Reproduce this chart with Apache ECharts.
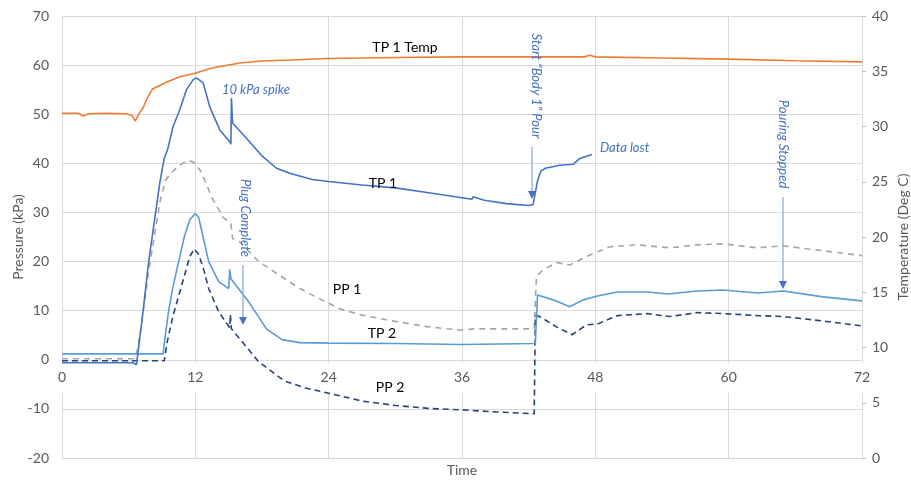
<!DOCTYPE html>
<html>
<head>
<meta charset="utf-8">
<title>Pressure and temperature</title>
<script src="https://cdn.jsdelivr.net/npm/echarts@6/dist/echarts.min.js"></script>
<style>
  html, body { margin: 0; padding: 0; background: #fff; }
  #chart { width: 911px; height: 480px; }
</style>
</head>
<body>
<div id="chart"></div>
<script>
// ticks
const timeTicks = [0, 12, 24, 36, 48, 60, 72]

// TP 1 Temp (right axis, deg C)
const tempTime = [0, 1.5, 1.9, 2.4, 4, 5.8, 6.3, 6.6, 6.9, 7.3, 7.6, 8.15, 9.4, 10.6, 11.9, 13.5, 16, 18, 20, 24, 30, 36, 42, 47, 47.5, 48, 54, 60, 66, 72]
const tempVal = [31.2, 31.2, 30.95, 31.15, 31.2, 31.15, 31.0, 30.5, 31.1, 31.7, 32.4, 33.4, 34.0, 34.5, 34.8, 35.3, 35.75, 35.93, 36.0, 36.15, 36.25, 36.3, 36.3, 36.3, 36.45, 36.3, 36.2, 36.1, 35.95, 35.85]

// TP 1 (kPa)
const tp1Time = [0, 6.4, 6.7, 7.2, 7.8, 8.3, 8.8, 9.2, 9.5, 10, 10.6, 11.2, 11.8, 12.1, 12.7, 13.3, 14.2, 15.1, 15.2, 15.25, 15.35, 16.6, 18, 19.3, 20.5, 22.5, 24, 27, 30, 33, 36, 36.9, 37.0, 38, 40, 42, 42.4, 42.8, 43.1, 43.5, 44.8, 46, 46.6, 47.7]
const tp1Val = [-0.6, -0.6, -1.0, 8, 20, 28, 36, 41, 42.8, 47.5, 50.9, 55, 57, 57.4, 56.4, 51.5, 46.8, 44.4, 43.9, 53.3, 48.2, 45.1, 41.5, 39, 38, 36.7, 36.3, 35.6, 35, 34, 33, 32.7, 33.2, 32.5, 31.8, 31.4, 31.6, 36.5, 38.4, 39, 39.6, 39.8, 41, 41.8]

// TP 2 (kPa)
const tp2Time = [0, 9.1, 9.3, 9.6, 10, 10.5, 11, 11.5, 12, 12.3, 12.7, 13.2, 14.1, 15.0, 15.1, 15.2, 16.8, 18.4, 19.8, 21.4, 24, 30, 36, 42.6, 42.8, 44.2, 45.7, 46.9, 48.2, 50, 52.7, 54.5, 57.2, 59.5, 62.6, 64.9, 68.5, 72]
const tp2Val = [1.2, 1.2, 5, 10, 15, 20, 25, 28.5, 29.8, 29, 25, 20, 15.9, 14.5, 18.4, 16.5, 11.8, 6.3, 4.1, 3.5, 3.4, 3.3, 3.1, 3.3, 13.2, 12.2, 10.8, 12.2, 13, 13.8, 13.8, 13.4, 14, 14.2, 13.6, 14, 12.8, 12]

// PP 1 (kPa)
const pp1Time = [0, 6.5, 6.8, 7.2, 7.8, 8.3, 8.8, 9.3, 9.8, 10.5, 11.3, 11.8, 12.5, 13.5, 14.5, 15.2, 15.3, 15.35, 16, 17.7, 19.5, 21.4, 23.2, 25, 26.8, 29.5, 33, 36, 37, 42.5, 42.7, 43.3, 44.5, 45.7, 47.2, 48.2, 49.3, 51.8, 54.7, 57.2, 59.5, 62.6, 64.9, 68.5, 72]
const pp1Val = [0.2, 0.2, 2, 8, 18, 25, 32, 36.5, 38, 39.5, 40.6, 40.3, 38.4, 33, 29, 27.8, 28, 24.7, 24, 20, 17.3, 14.5, 12.4, 10.4, 9.2, 8.0, 6.7, 6.0, 6.3, 6.3, 17, 18.3, 19.8, 19.3, 21, 22, 23, 23.4, 22.8, 23.4, 23.6, 22.8, 23.2, 22.2, 21.2]

// PP 2 (kPa)
const pp2Time = [0, 9.2, 9.5, 10, 10.5, 11, 11.5, 11.9, 12.3, 12.8, 13.2, 14.1, 15.1, 15.15, 15.25, 16.2, 17.7, 20, 22, 24, 27, 30, 33, 36, 39, 42.5, 42.6, 43, 44.5, 45.9, 47.2, 48.2, 50, 52.7, 54.7, 57.2, 59.5, 62.6, 64.9, 68.5, 72]
const pp2Val = [-0.2, -0.2, 4, 9, 13, 17, 21, 22.6, 21.5, 18, 14.5, 9.8, 6.5, 9.2, 6.3, 3.7, -0.4, -4.3, -5.8, -6.8, -8.4, -9.3, -9.9, -10.2, -10.6, -11, 9, 8.8, 6.7, 5.1, 7.1, 7.3, 9, 9.4, 8.8, 9.6, 9.4, 9, 8.8, 7.9, 6.9]

const FONT = 'Lato, "Open Sans", sans-serif'
const GRID_COLOR = '#D9D9D9'
const LABEL_COLOR = '#595959'
const NOTE_COLOR = '#4472C4'
const ARROW_COLOR = '#8FAADC'

const zip = (xs, ys) => xs.map((x, i) => [x, ys[i]])

const lineSeries = (name, xs, ys, color, opts = {}) => ({
  name: name,
  type: 'line',
  showSymbol: false,
  symbol: 'none',
  yAxisIndex: opts.yAxisIndex || 0,
  data: zip(xs, ys),
  lineStyle: { color: color, width: 1.6, type: opts.dash || 'solid' },
  itemStyle: { color: color },
  z: 3
})

// series name labels (black text on the plot)
const seriesText = (text, x, y) => ({
  type: 'text', x: x, y: y, z: 10,
  style: { text: text, fill: '#000', font: '14px ' + FONT, align: 'center', verticalAlign: 'middle' }
})

// blue italic notes, rotated ones read top to bottom
const noteText = (text, x, y, rotated) => ({
  type: 'text', x: x, y: y, z: 10,
  rotation: rotated ? -Math.PI / 2 : 0,
  style: { text: text, fill: NOTE_COLOR, font: 'italic 13px ' + FONT, align: rotated ? 'center' : 'left', verticalAlign: 'middle' }
})

// vertical arrow pointing down
const arrowDown = (x, y1, y2) => [
  { type: 'line', z: 10, shape: { x1: x, y1: y1, x2: x, y2: y2 - 5 }, style: { stroke: ARROW_COLOR, lineWidth: 1.3 } },
  { type: 'polygon', z: 10, shape: { points: [[x - 4, y2 - 8], [x + 4, y2 - 8], [x, y2]] }, style: { fill: NOTE_COLOR } }
]

const chart = echarts.init(document.getElementById('chart'))

const option = {
  animation: false,
  textStyle: { fontFamily: FONT },
  grid: { left: 62, right: 49, top: 16, bottom: 22, containLabel: false, outerBoundsMode: 'none' },
  xAxis: [
    {
      // labels sit on the zero line of the pressure axis (-20..0 is 98px)
      type: 'value', min: 0, max: 72, interval: 12, position: 'bottom', offset: -98, z: 6,
      axisLine: { show: false, onZero: false },
      axisTick: { show: false },
      axisLabel: { color: LABEL_COLOR, fontSize: 14, margin: 10, fontFamily: FONT },
      splitLine: { show: false },
      name: 'Time', nameLocation: 'middle', nameGap: 103, nameMoveOverlap: false,
      nameTextStyle: { color: LABEL_COLOR, fontSize: 14, fontFamily: FONT }
    },
    {
      // only vertical grid lines
      type: 'value', min: 0, max: 72, interval: 12, position: 'top',
      axisLine: { show: false, onZero: false }, axisTick: { show: false }, axisLabel: { show: false },
      splitLine: { show: true, lineStyle: { color: GRID_COLOR, width: 1 } }
    }
  ],
  yAxis: [
    {
      type: 'value', min: -20, max: 70, interval: 10, position: 'left',
      axisLine: { show: true, onZero: false, lineStyle: { color: GRID_COLOR } },
      axisTick: { show: false },
      axisLabel: { color: LABEL_COLOR, fontSize: 14, margin: 13, fontFamily: FONT },
      splitLine: { show: true, lineStyle: { color: GRID_COLOR, width: 1 } },
      name: 'Pressure (kPa)', nameLocation: 'middle', nameGap: 37, nameMoveOverlap: false,
      nameTextStyle: { color: LABEL_COLOR, fontSize: 14, fontFamily: FONT }
    },
    {
      type: 'value', min: 0, max: 40, interval: 5, position: 'right',
      axisLine: { show: true, onZero: false, lineStyle: { color: GRID_COLOR } },
      axisTick: { show: true, length: 4, lineStyle: { color: '#BFBFBF' } },
      axisLabel: { color: LABEL_COLOR, fontSize: 14, margin: 10, fontFamily: FONT },
      splitLine: { show: false },
      name: 'Temperature (Deg C)', nameLocation: 'middle', nameGap: 34, nameMoveOverlap: false,
      nameTextStyle: { color: LABEL_COLOR, fontSize: 14, fontFamily: FONT }
    }
  ],
  series: [
    lineSeries('PP 1', pp1Time, pp1Val, '#A5A5A5', { dash: [6, 5] }),
    lineSeries('PP 2', pp2Time, pp2Val, '#264478', { dash: [6, 4] }),
    lineSeries('TP 2', tp2Time, tp2Val, '#5B9BD5'),
    lineSeries('TP 1', tp1Time, tp1Val, '#4472C4'),
    lineSeries('TP 1 Temp', tempTime, tempVal, '#ED7D31', { yAxisIndex: 1 })
  ],
  graphic: [
    // break in the axes behind the time labels
    { type: 'rect', z: 1, silent: true, shape: { x: 57, y: 363, width: 811, height: 30 }, style: { fill: '#fff' } },
    seriesText('TP 1 Temp', 405, 47),
    seriesText('TP 1', 383, 183),
    seriesText('PP 1', 347, 289),
    seriesText('TP 2', 382, 333),
    seriesText('PP 2', 390, 387),
    noteText('10 kPa spike', 222, 90, false),
    noteText('Data lost', 600, 148, false),
    noteText('Plug Complete', 245, 218, true),
    noteText('Start \u201CBody 1\u201D Pour', 536, 86, true),
    noteText('Pouring Stopped', 783, 144, true),
    ...arrowDown(243, 265, 325),
    ...arrowDown(532, 147, 199),
    ...arrowDown(783, 197, 289)
  ]
}

chart.setOption(option)
</script>
</body>
</html>
